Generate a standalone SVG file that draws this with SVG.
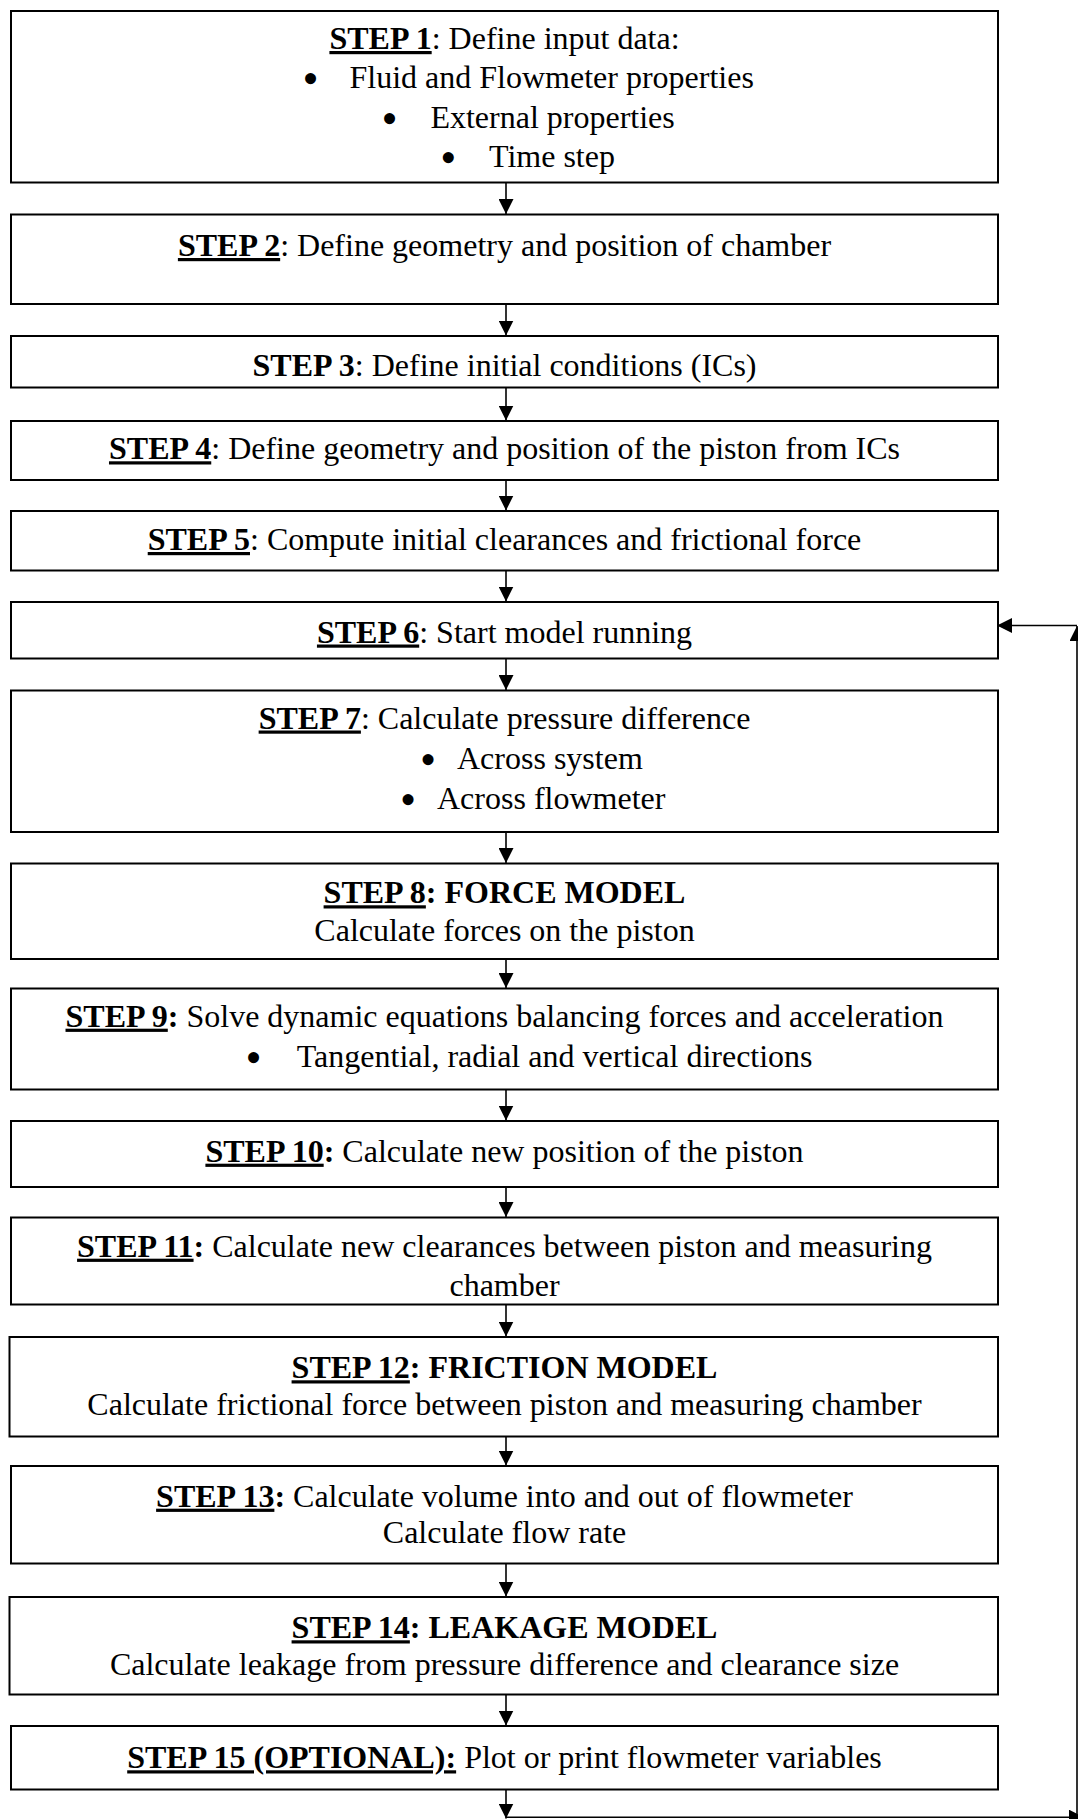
<svg xmlns="http://www.w3.org/2000/svg" width="1078" height="1819" viewBox="0 0 1078 1819">
<style>
.box{fill:#fff;stroke:#000;stroke-width:2}
.t{font-family:"Liberation Serif","Times New Roman",serif;font-size:32px;fill:#000}
.c{text-anchor:middle}
.b{font-weight:bold}
.u{text-decoration:underline;text-decoration-thickness:2.5px}
.bl{font-family:"Liberation Serif","Times New Roman",serif;font-size:46px;text-anchor:middle;fill:#000}
.con{stroke:#000;stroke-width:1.6;fill:none}
</style>
<defs>
<marker id="ah" markerUnits="userSpaceOnUse" markerWidth="15" markerHeight="15" refX="15" refY="7.5" orient="auto" viewBox="0 0 15 15">
<path d="M0,0 L15,7.5 L0,15 z" fill="#000"/>
</marker>
</defs>
<rect width="1078" height="1819" fill="#fff"/>
<g id="connectors">
<line class="con" x1="506" y1="182.5" x2="506" y2="214" marker-end="url(#ah)"/>
<line class="con" x1="506" y1="304" x2="506" y2="335.5" marker-end="url(#ah)"/>
<line class="con" x1="506" y1="387.5" x2="506" y2="420.5" marker-end="url(#ah)"/>
<line class="con" x1="506" y1="480" x2="506" y2="510.5" marker-end="url(#ah)"/>
<line class="con" x1="506" y1="570.5" x2="506" y2="601.5" marker-end="url(#ah)"/>
<line class="con" x1="506" y1="658.5" x2="506" y2="690" marker-end="url(#ah)"/>
<line class="con" x1="506" y1="832" x2="506" y2="863" marker-end="url(#ah)"/>
<line class="con" x1="506" y1="959" x2="506" y2="988" marker-end="url(#ah)"/>
<line class="con" x1="506" y1="1089.5" x2="506" y2="1120.5" marker-end="url(#ah)"/>
<line class="con" x1="506" y1="1187" x2="506" y2="1217" marker-end="url(#ah)"/>
<line class="con" x1="506" y1="1304.5" x2="506" y2="1336.5" marker-end="url(#ah)"/>
<line class="con" x1="506" y1="1436.5" x2="506" y2="1465.5" marker-end="url(#ah)"/>
<line class="con" x1="506" y1="1563.5" x2="506" y2="1596.5" marker-end="url(#ah)"/>
<line class="con" x1="506" y1="1694.5" x2="506" y2="1725.5" marker-end="url(#ah)"/>
<line class="con" x1="506" y1="1789.5" x2="506" y2="1818.5" marker-end="url(#ah)"/>
<line class="con" x1="506" y1="1817.2" x2="1084" y2="1817.2" marker-end="url(#ah)"/>
<line class="con" x1="1077" y1="1817.2" x2="1077" y2="626" marker-end="url(#ah)"/>
<line class="con" x1="1077" y1="625.5" x2="997" y2="625.5" marker-end="url(#ah)"/>
</g>
<g id="step1">
<rect class="box" x="11" y="11" width="987" height="171.5"/>
<text class="t c" x="504.5" y="49"><tspan class="b u">STEP 1</tspan>: Define input data:</text>
<text class="bl" x="310.5" y="94">•</text>
<text class="t" x="349.5" y="88">Fluid and Flowmeter properties</text>
<text class="bl" x="389.6" y="133.5">•</text>
<text class="t" x="430.4" y="127.5">External properties</text>
<text class="bl" x="448.2" y="172.5">•</text>
<text class="t" x="489" y="166.5">Time step</text>
</g>
<g id="step2">
<rect class="box" x="11" y="214.5" width="987" height="89.5"/>
<text class="t c" x="504.5" y="256"><tspan class="b u">STEP 2</tspan>: Define geometry and position of chamber</text>
</g>
<g id="step3">
<rect class="box" x="11" y="336" width="987" height="51.5"/>
<text class="t c" x="504.5" y="376"><tspan class="b">STEP 3</tspan>: Define initial conditions (ICs)</text>
</g>
<g id="step4">
<rect class="box" x="11" y="421" width="987" height="59"/>
<text class="t c" x="504.5" y="459.3"><tspan class="b u">STEP 4</tspan>: Define geometry and position of the piston from ICs</text>
</g>
<g id="step5">
<rect class="box" x="11" y="511" width="987" height="59.5"/>
<text class="t c" x="504.5" y="550"><tspan class="b u">STEP 5</tspan>: Compute initial clearances and frictional force</text>
</g>
<g id="step6">
<rect class="box" x="11" y="602" width="987" height="56.5"/>
<text class="t c" x="504.5" y="642.5"><tspan class="b u">STEP 6</tspan>: Start model running</text>
</g>
<g id="step7">
<rect class="box" x="11" y="690.5" width="987" height="141.5"/>
<text class="t c" x="504.5" y="728.5"><tspan class="b u">STEP 7</tspan>: Calculate pressure difference</text>
<text class="bl" x="428" y="774.5">•</text>
<text class="t" x="457" y="768.5">Across system</text>
<text class="bl" x="408" y="814.5">•</text>
<text class="t" x="437" y="808.5">Across flowmeter</text>
</g>
<g id="step8">
<rect class="box" x="11" y="863.5" width="987" height="95.5"/>
<text class="t c b" x="504.5" y="903.3"><tspan class="u">STEP 8</tspan>: FORCE MODEL</text>
<text class="t c" x="504.5" y="941">Calculate forces on the piston</text>
</g>
<g id="step9">
<rect class="box" x="11" y="988.5" width="987" height="101"/>
<text class="t c" x="504.5" y="1026.7"><tspan class="b"><tspan class="u">STEP 9</tspan>:</tspan> Solve dynamic equations balancing forces and acceleration</text>
<text class="bl" x="253.6" y="1072.7">•</text>
<text class="t" x="296.8" y="1066.7">Tangential, radial and vertical directions</text>
</g>
<g id="step10">
<rect class="box" x="11" y="1121" width="987" height="66"/>
<text class="t c" x="504.5" y="1161.7"><tspan class="b"><tspan class="u">STEP 10</tspan>:</tspan> Calculate new position of the piston</text>
</g>
<g id="step11">
<rect class="box" x="11" y="1217.5" width="987" height="87"/>
<text class="t c" x="504.5" y="1256.7"><tspan class="b"><tspan class="u">STEP 11</tspan>:</tspan> Calculate new clearances between piston and measuring</text>
<text class="t c" x="504.5" y="1295.7">chamber</text>
</g>
<g id="step12">
<rect class="box" x="9.5" y="1337" width="988.5" height="99.5"/>
<text class="t c b" x="504.5" y="1378.3"><tspan class="u">STEP 12</tspan>: FRICTION MODEL</text>
<text class="t c" x="504.5" y="1415">Calculate frictional force between piston and measuring chamber</text>
</g>
<g id="step13">
<rect class="box" x="11" y="1466" width="987" height="97.5"/>
<text class="t c" x="504.5" y="1506.7"><tspan class="b"><tspan class="u">STEP 13</tspan>:</tspan> Calculate volume into and out of flowmeter</text>
<text class="t c" x="504.5" y="1543.3">Calculate flow rate</text>
</g>
<g id="step14">
<rect class="box" x="9.5" y="1597" width="988.5" height="97.5"/>
<text class="t c b" x="504.5" y="1638.3"><tspan class="u">STEP 14</tspan>: LEAKAGE MODEL</text>
<text class="t c" x="504.5" y="1675">Calculate leakage from pressure difference and clearance size</text>
</g>
<g id="step15">
<rect class="box" x="11" y="1726" width="987" height="63.5"/>
<text class="t c" x="504.5" y="1768.3"><tspan class="b u">STEP 15 (OPTIONAL):</tspan> Plot or print flowmeter variables</text>
</g>
</svg>
